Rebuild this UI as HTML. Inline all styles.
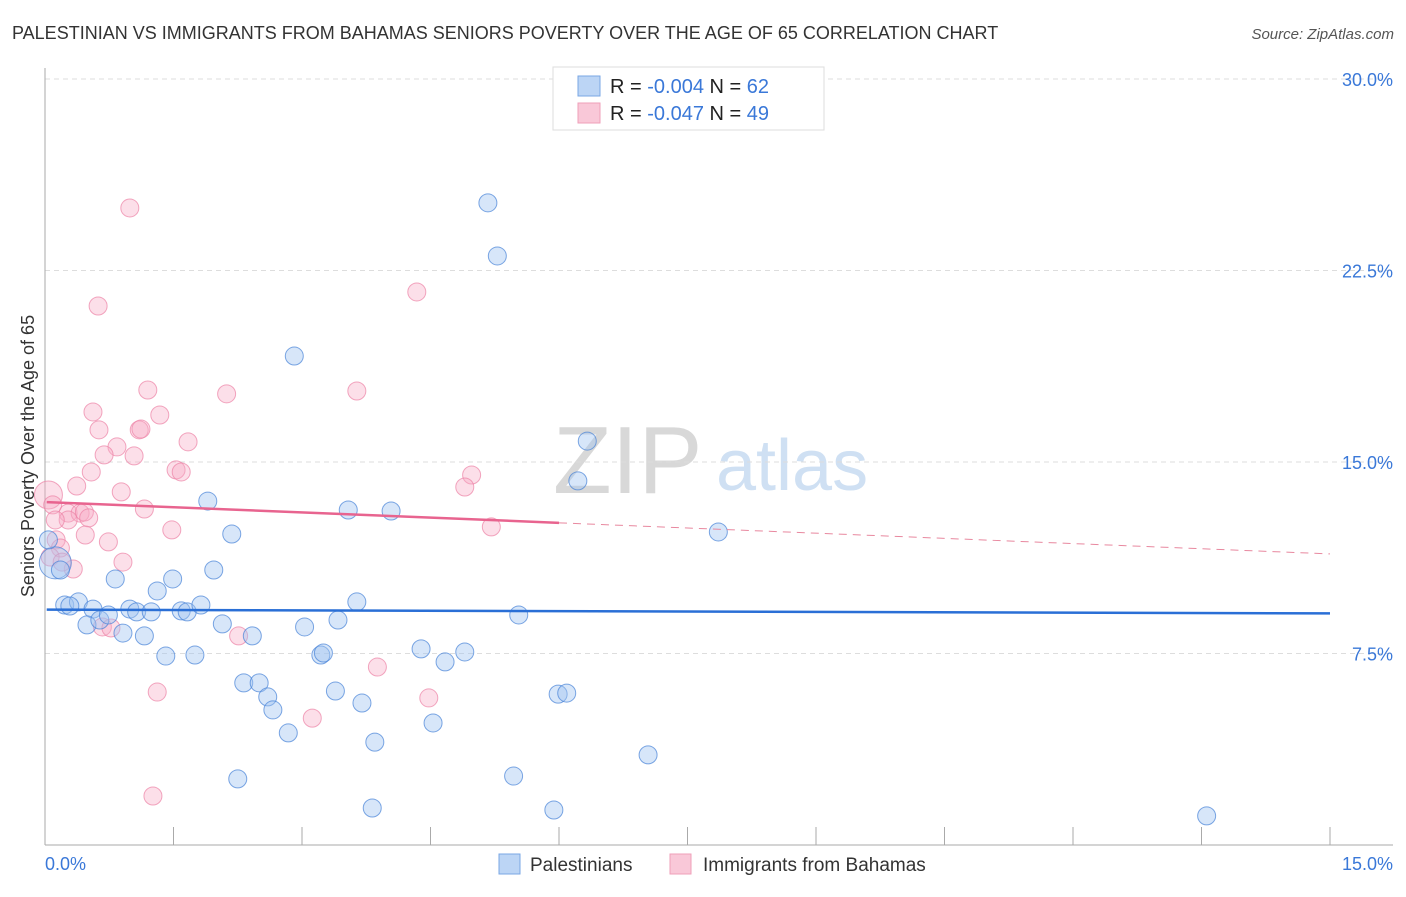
<!DOCTYPE html>
<html><head><meta charset="utf-8"><style>
body{margin:0;background:#fff;font-family:"Liberation Sans",sans-serif;}
svg text{font-family:"Liberation Sans",sans-serif;}
</style></head><body>
<svg id="chart" width="1406" height="892" viewBox="0 0 1406 892" xmlns="http://www.w3.org/2000/svg">
<text x="12" y="39" font-size="18" fill="#333">PALESTINIAN VS IMMIGRANTS FROM BAHAMAS SENIORS POVERTY OVER THE AGE OF 65 CORRELATION CHART</text>
<text x="1394" y="39" font-size="15" fill="#555" text-anchor="end" font-style="italic">Source: ZipAtlas.com</text>
<g>
<text x="553" y="493" font-size="96" fill="#d8d8d8" font-family="Liberation Serif, serif">ZIP</text>
<text x="716" y="490" font-size="72" fill="#cfe0f3">atlas</text>
</g>
<g id="grid"></g>
<g id="axes"></g>
<g id="marks"></g>
<text transform="translate(34,456) rotate(-90)" font-size="18" fill="#333" text-anchor="middle">Seniors Poverty Over the Age of 65</text>
<g>
<rect x="553" y="67" width="271" height="63" fill="#fff" stroke="#ddd"/>
<rect x="578" y="76" width="22" height="20" fill="#bcd5f5" stroke="#7aa7e4"/>
<rect x="578" y="103" width="22" height="20" fill="#f9c8d8" stroke="#ef9fb9"/>
<text x="610" y="93" font-size="20" fill="#222">R = <tspan fill="#3a78d8">-0.004</tspan>   N = <tspan fill="#3a78d8">62</tspan></text>
<text x="610" y="120" font-size="20" fill="#222">R =  <tspan fill="#3a78d8">-0.047</tspan>   N = <tspan fill="#3a78d8">49</tspan></text>
</g>
<g>
<rect x="499" y="854" width="21" height="20" fill="#bcd5f5" stroke="#7aa7e4"/>
<text x="530" y="871" font-size="19" fill="#333">Palestinians</text>
<rect x="670" y="854" width="21" height="20" fill="#f9c8d8" stroke="#ef9fb9"/>
<text x="703" y="871" font-size="19" fill="#333">Immigrants from Bahamas</text>
</g>
</svg>
<script>
const yTicks=[7.5,15,22.5,30];
const yTickLabels=["7.5%","15.0%","22.5%","30.0%"];
const xTickLabels=["0.0%","15.0%"];
const blueX=[5.17,5.28,2.91,6.33,6.22,1.90,3.54,4.04,7.86,2.18,0.12,0.82,1.97,1.49,1.31,0.23,0.39,0.56,0.99,1.07,1.24,1.59,1.66,1.82,3.64,5.53,0.49,0.64,0.74,0.91,1.16,2.07,2.42,3.03,3.42,1.41,1.75,3.22,3.25,4.39,4.67,4.90,2.32,2.50,2.60,2.66,3.39,3.70,5.99,6.09,2.84,4.53,3.85,7.04,2.25,5.47,3.82,5.94,13.56,0.04,0.18,0.29];
const blueY=[25.15,23.07,19.15,15.82,14.26,13.47,13.12,13.08,12.26,12.18,11.05,10.42,10.77,10.42,9.95,9.40,9.52,9.24,9.24,9.13,9.13,9.17,9.13,9.40,9.52,9.01,8.62,8.81,9.01,8.30,8.19,8.66,8.19,8.54,8.81,7.40,7.44,7.44,7.52,7.68,7.17,7.56,6.35,6.35,5.80,5.29,6.03,5.56,5.91,5.95,4.39,4.78,4.03,3.53,2.59,2.70,1.45,1.37,1.14,11.95,10.77,9.36];
const pinkX=[0.99,0.62,4.34,1.20,2.12,3.64,0.56,1.34,0.63,1.10,1.12,1.67,0.84,0.69,1.04,1.53,1.59,0.54,4.98,4.90,0.37,0.89,0.04,0.09,1.16,0.27,0.41,0.46,0.27,0.51,1.48,5.21,0.12,0.47,0.74,0.13,0.18,0.91,0.06,0.33,0.20,0.67,0.77,2.26,1.31,3.88,4.48,3.12,1.26];
const pinkY=[24.95,21.11,21.66,17.82,17.67,17.78,16.96,16.84,16.26,16.26,16.29,15.79,15.59,15.28,15.24,14.69,14.61,14.61,14.49,14.02,14.06,13.83,13.71,13.32,13.16,13.00,13.00,13.04,12.73,12.81,12.34,12.46,12.73,12.14,11.87,11.95,11.63,11.08,11.28,10.81,11.08,8.54,8.50,8.19,5.99,6.97,5.76,4.97,1.92];
const blueBig=[10];
const pinkBig=[22];
const blueTrend=[9.22,9.07];
const pinkTrend=[13.43,11.4];
const pinkSolidEnd=6.0;

const X=v=>45+v*(1285/15);
const Y=v=>845-v*(766/30);
const NS="http://www.w3.org/2000/svg";
function mk(tag,attrs,parent){const e=document.createElementNS(NS,tag);for(const k in attrs)e.setAttribute(k,attrs[k]);parent.appendChild(e);return e;}
const grid=document.getElementById('grid'),axes=document.getElementById('axes'),marks=document.getElementById('marks');
yTicks.forEach((t,i)=>{
  const l=mk('line',{x1:45,x2:1393,y1:Y(t),y2:Y(t),stroke:'#ddd','stroke-dasharray':'5,4'},grid);
  
  
  const tx=mk('text',{x:1393,y:Y(t)+7,'font-size':18,fill:'#3a78d8','text-anchor':'end'},axes);
  tx.textContent=yTickLabels[i];
  
  
});
const ya=mk('line',{x1:45,x2:45,y1:68,y2:845,stroke:'#aaa'},axes);


const xa=mk('line',{x1:45,x2:1393,y1:845,y2:845,stroke:'#aaa'},axes);


for(let i=0;i<=10;i++){
  const v=i*1.5;
  const tk=mk('line',{x1:X(v),x2:X(v),y1:827,y2:845,stroke:'#aaa'},axes);
  
  
}
[[0,'start',45],[15,'end',1393]].forEach((a,i)=>{
  const t=mk('text',{x:a[2],y:870,'font-size':18,fill:'#3a78d8','text-anchor':a[1]},axes);
  t.textContent=xTickLabels[i];
  
  
});
pinkX.forEach((x,i)=>{
  const c=mk('circle',{cx:X(x),cy:Y(pinkY[i]),r:pinkBig.includes(i)?14:9,fill:'rgba(246,170,196,0.38)',stroke:'rgba(236,130,165,0.7)','stroke-width':1},marks);
  
  
});
blueX.forEach((x,i)=>{
  const c=mk('circle',{cx:X(x),cy:Y(blueY[i]),r:blueBig.includes(i)?16:9,fill:'rgba(160,195,240,0.42)',stroke:'rgba(70,130,215,0.7)','stroke-width':1},marks);
  
  
});
const bl=mk('line',{x1:X(0.02),x2:X(15),y1:Y(blueTrend[0]),y2:Y(blueTrend[1]),stroke:'#2a6fd6','stroke-width':2.5},marks);


const pAt=v=>pinkTrend[0]+(pinkTrend[1]-pinkTrend[0])*v/15;
const pl=mk('line',{x1:X(0.02),x2:X(pinkSolidEnd),y1:Y(pAt(0)),y2:Y(pAt(pinkSolidEnd)),stroke:'#e8648f','stroke-width':2.5},marks);


const pd=mk('line',{x1:X(pinkSolidEnd),x2:X(15),y1:Y(pAt(pinkSolidEnd)),y2:Y(pAt(15)),stroke:'#e8889f','stroke-width':1,'stroke-dasharray':'8,6'},marks);


</script>
</body></html>
